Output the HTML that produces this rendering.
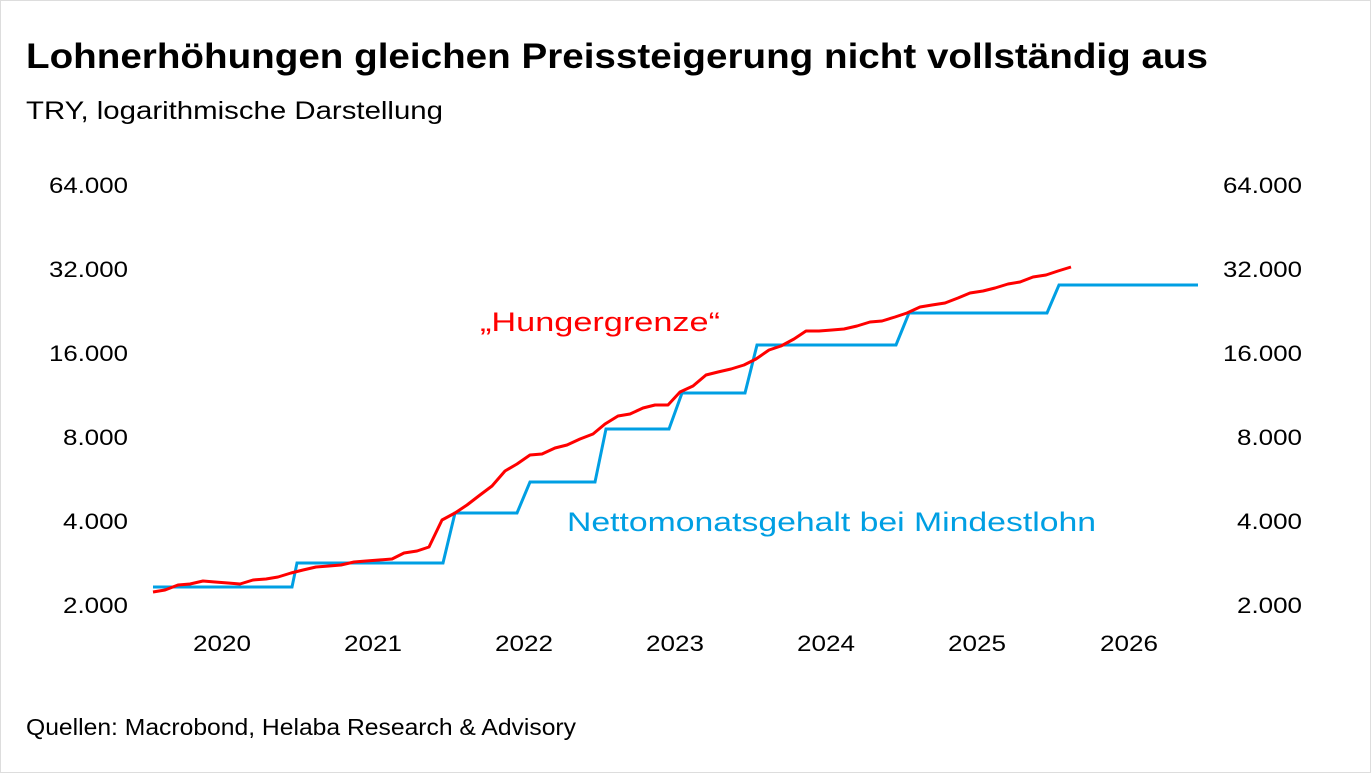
<!DOCTYPE html>
<html><head><meta charset="utf-8"><style>
html,body{margin:0;padding:0;background:#fff}
body{width:1371px;height:773px;overflow:hidden}
svg{display:block;font-family:"Liberation Sans","DejaVu Sans",sans-serif}
</style></head><body>
<svg width="1371" height="773" viewBox="0 0 1371 773">
<rect x="0.5" y="0.5" width="1370" height="772" fill="#fff" stroke="#ddd"/>
<text x="26" y="68" font-size="35" font-weight="bold" fill="#000" textLength="1182" lengthAdjust="spacingAndGlyphs">Lohnerhöhungen gleichen Preissteigerung nicht vollständig aus</text>
<text x="26" y="119" font-size="25" fill="#000" textLength="417" lengthAdjust="spacingAndGlyphs">TRY, logarithmische Darstellung</text>
<g font-size="22" fill="#000">
<text x="49" y="193" textLength="79" lengthAdjust="spacingAndGlyphs">64.000</text><text x="49" y="277" textLength="79" lengthAdjust="spacingAndGlyphs">32.000</text><text x="49" y="361" textLength="79" lengthAdjust="spacingAndGlyphs">16.000</text>
<text x="63" y="445" textLength="65" lengthAdjust="spacingAndGlyphs">8.000</text><text x="63" y="529" textLength="65" lengthAdjust="spacingAndGlyphs">4.000</text><text x="63" y="613" textLength="65" lengthAdjust="spacingAndGlyphs">2.000</text>
<text x="1223" y="193" textLength="79" lengthAdjust="spacingAndGlyphs">64.000</text><text x="1223" y="277" textLength="79" lengthAdjust="spacingAndGlyphs">32.000</text><text x="1223" y="361" textLength="79" lengthAdjust="spacingAndGlyphs">16.000</text>
<text x="1237" y="445" textLength="65" lengthAdjust="spacingAndGlyphs">8.000</text><text x="1237" y="529" textLength="65" lengthAdjust="spacingAndGlyphs">4.000</text><text x="1237" y="613" textLength="65" lengthAdjust="spacingAndGlyphs">2.000</text>
</g>
<g font-size="22" fill="#000">
<text x="193" y="651" textLength="58" lengthAdjust="spacingAndGlyphs">2020</text><text x="344" y="651" textLength="58" lengthAdjust="spacingAndGlyphs">2021</text><text x="495" y="651" textLength="58" lengthAdjust="spacingAndGlyphs">2022</text>
<text x="646" y="651" textLength="58" lengthAdjust="spacingAndGlyphs">2023</text><text x="797" y="651" textLength="58" lengthAdjust="spacingAndGlyphs">2024</text><text x="948" y="651" textLength="58" lengthAdjust="spacingAndGlyphs">2025</text><text x="1100" y="651" textLength="58" lengthAdjust="spacingAndGlyphs">2026</text>
</g>
<path d="M153,587 H292 L297,563 H443 L455,513 H517 L530,482 H595 L606,429 H669 L682,393 H745 L757,345 H896 L909,313 H1047 L1059,285 H1198" fill="none" stroke="#009fe3" stroke-width="3"/>
<path d="M153,592 165,590 178,585 190,584 203,581 215,582 228,583 240,584 253,580 266,579 278,577 291,573 303,570 316,567 329,566 341,565 354,562 366,561 379,560 392,559 404,553 417,551 429,547 442,520 455,513 467,505 480,495 492,486 505,471 517,464 530,455 542,454 555,448 567,445 580,439 593,434 605,424 618,416 630,414 643,408 655,405 668,405 680,392 693,386 706,375 718,372 731,369 744,365 756,359 769,350 781,346 794,339 806,331 819,331 832,330 844,329 857,326 870,322 882,321 895,317 907,313 920,307 932,305 945,303 958,298 970,293 983,291 995,288 1008,284 1020,282 1033,277 1046,275 1058,271 1071,267" fill="none" stroke="#f00" stroke-width="3" stroke-linejoin="round"/>
<text x="480" y="331" font-size="27" fill="#f00" textLength="240" lengthAdjust="spacingAndGlyphs">„Hungergrenze“</text>
<text x="567" y="531" font-size="27" fill="#009fe3" textLength="529" lengthAdjust="spacingAndGlyphs">Nettomonatsgehalt bei Mindestlohn</text>
<text x="26" y="735" font-size="23" fill="#000" textLength="550" lengthAdjust="spacingAndGlyphs">Quellen: Macrobond, Helaba Research &amp; Advisory</text>
</svg>
</body></html>
